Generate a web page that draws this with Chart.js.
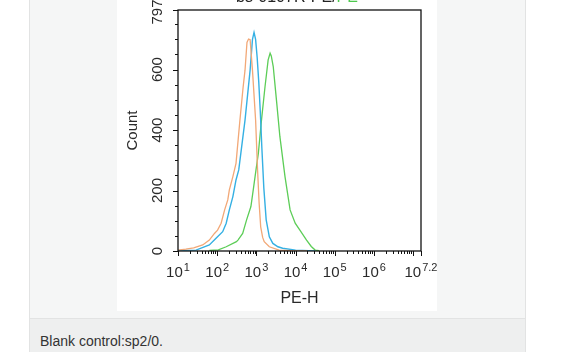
<!DOCTYPE html>
<html>
<head>
<meta charset="utf-8">
<script src="https://cdn.jsdelivr.net/npm/chart.js@4.4.1/dist/chart.umd.min.js"></script>
<style>
  html, body { margin: 0; padding: 0; background: #fff; width: 561px; height: 352px; overflow: hidden; font-family: Arial, "Liberation Sans", sans-serif; }
  .panel { position: absolute; left: 29px; top: -10px; width: 495px; height: 328px; background: #f5f6f6; border: 1px solid #e2e3e3; border-top: none; }
  .caption { position: absolute; left: 29px; top: 318px; width: 495px; height: 40px; background: #eeefef; border-left: 1px solid #e2e3e3; border-right: 1px solid #e2e3e3; border-top: 1px solid #e2e3e3; }
  .caption span { position: absolute; left: 10px; top: 14px; font-size: 14px; color: #333; }
  .figure { position: absolute; left: 117px; top: 0; width: 320px; height: 311px; background: #fff; }
</style>
</head>
<body>
<div class="panel"></div>
<div class="figure"><canvas id="flowChart" width="320" height="311"></canvas></div>
<div class="caption"><span>Blank control:sp2/0.</span></div>
<script>
// PE-H positions are in decades (log10), counts are events per channel
var blankPE = [1.0, 1.2, 1.4, 1.63, 1.8, 1.93, 2.01, 2.1, 2.19, 2.27, 2.31, 2.4, 2.48, 2.58, 2.66, 2.71, 2.76, 2.8, 2.84, 2.9, 2.98, 3.03, 3.07, 3.11, 3.16, 3.2, 3.33, 3.58, 3.9, 4.3];
var blankCount = [3, 6, 10, 20, 36, 58, 69, 92, 136, 169, 202, 246, 290, 433, 540, 598, 690, 701, 699, 598, 433, 268, 158, 80, 45, 31, 14, 3, 1, 0];

var isotypePE = [1.0, 1.46, 1.8, 1.97, 2.14, 2.23, 2.31, 2.4, 2.48, 2.55, 2.71, 2.84, 2.9, 2.94, 2.98, 3.02, 3.06, 3.1, 3.14, 3.19, 3.25, 3.33, 3.42, 3.55, 3.67, 4.0, 4.5];
var isotypeCount = [2, 3, 20, 42, 64, 92, 136, 180, 235, 268, 433, 598, 700, 723, 700, 640, 560, 460, 340, 208, 103, 47, 25, 14, 9, 3, 0];

var samplePE = [1.8, 2.03, 2.23, 2.49, 2.53, 2.65, 2.75, 2.86, 2.92, 2.99, 3.05, 3.13, 3.22, 3.3, 3.35, 3.38, 3.43, 3.52, 3.6, 3.73, 3.86, 3.99, 4.11, 4.28, 4.4, 4.5, 4.6];
var sampleCount = [2, 4, 14, 31, 36, 58, 103, 147, 202, 268, 323, 433, 543, 632, 654, 645, 610, 488, 378, 246, 136, 92, 69, 36, 15, 3, 1];

var xDecades = [1, 2, 3, 4, 5, 6, 7.2];
var xExponents = ['1', '2', '3', '4', '5', '6', '7.2'];
var yTicks = [0, 200, 400, 600, 797];

var FONT = 'Arial, "Liberation Sans", sans-serif';

function toPoints(xs, ys) {
    return xs.map(function (v, i) { return { x: v, y: ys[i] }; });
}

var axisPlugin = {
    id: 'flowAxes',
    afterDraw: function (chart) {
        var ctx = chart.ctx;
        var area = chart.chartArea;
        var x = chart.scales.x;
        var y = chart.scales.y;
        ctx.save();
        ctx.strokeStyle = '#111';
        ctx.lineWidth = 1.3;
        ctx.strokeRect(area.left, area.top, area.right - area.left, area.bottom - area.top);

        // y ticks every 50, labelled ones longer
        ctx.lineWidth = 1;
        for (var v = 0; v <= 797; v += 50) {
            var py = Math.round(y.getPixelForValue(v)) + 0.5;
            var len = (v % 200 === 0) ? 5 : 3;
            ctx.beginPath(); ctx.moveTo(area.left - len, py); ctx.lineTo(area.left, py); ctx.stroke();
        }
        var pTop = Math.round(y.getPixelForValue(797)) + 0.5;
        ctx.beginPath(); ctx.moveTo(area.left - 5, pTop); ctx.lineTo(area.left, pTop); ctx.stroke();

        // x ticks: decades plus log minors
        for (var d = 1; d <= 7; d++) {
            var px = Math.round(x.getPixelForValue(d)) + 0.5;
            ctx.beginPath(); ctx.moveTo(px, area.bottom); ctx.lineTo(px, area.bottom + 5); ctx.stroke();
            for (var k = 2; k <= 9; k++) {
                var lv = d + Math.log10(k);
                if (lv > 7.2) break;
                var pm = Math.round(x.getPixelForValue(lv)) + 0.5;
                ctx.beginPath(); ctx.moveTo(pm, area.bottom); ctx.lineTo(pm, area.bottom + 3); ctx.stroke();
            }
        }
        var pEnd = Math.round(x.getPixelForValue(7.2)) + 0.5;
        ctx.beginPath(); ctx.moveTo(pEnd, area.bottom); ctx.lineTo(pEnd, area.bottom + 5); ctx.stroke();

        ctx.fillStyle = '#2a2a2a';
        // y labels, rotated
        ctx.font = '15px ' + FONT;
        ctx.textAlign = 'center';
        ctx.textBaseline = 'middle';
        yTicks.forEach(function (t) {
            ctx.save();
            ctx.translate(area.left - 20, y.getPixelForValue(t) + (t === 797 ? 2 : 0));
            ctx.rotate(-Math.PI / 2);
            ctx.fillText(String(t), 0, 0);
            ctx.restore();
        });

        // x labels as 10 with superscript exponent
        ctx.textAlign = 'left';
        ctx.textBaseline = 'alphabetic';
        xDecades.forEach(function (d, i) {
            ctx.font = '15px ' + FONT;
            var w1 = ctx.measureText('10').width;
            ctx.font = '11px ' + FONT;
            var w2 = ctx.measureText(xExponents[i]).width;
            var sx = x.getPixelForValue(d) - (w1 + 1 + w2) / 2;
            ctx.font = '15px ' + FONT;
            ctx.fillText('10', sx, area.bottom + 26);
            ctx.font = '11px ' + FONT;
            ctx.fillText(xExponents[i], sx + w1 + 1, area.bottom + 20);
        });

        // figure title, mostly scrolled out of view
        ctx.font = '16px ' + FONT;
        var t1 = 'bs-0107R-PE/', t2 = 'PE';
        var tw1 = ctx.measureText(t1).width, tw2 = ctx.measureText(t2).width;
        var tx = 180 - (tw1 + tw2) / 2;
        ctx.fillStyle = '#222';
        ctx.fillText(t1, tx, 2);
        ctx.fillStyle = '#4ec94e';
        ctx.fillText(t2, tx + tw1, 2);
        ctx.restore();
    }
};

var ctx = document.getElementById('flowChart').getContext('2d');
var flowChart = new Chart(ctx, {
    type: 'line',
    data: {
        datasets: [
            { label: 'Blank control', data: toPoints(blankPE, blankCount), borderColor: '#f2a877', borderWidth: 1.3, pointRadius: 0, tension: 0 },
            { label: 'Isotype control', data: toPoints(isotypePE, isotypeCount), borderColor: '#35b0e3', borderWidth: 1.4, pointRadius: 0, tension: 0 },
            { label: 'bs-0107R-PE', data: toPoints(samplePE, sampleCount), borderColor: '#5ccd57', borderWidth: 1.3, pointRadius: 0, tension: 0 }
        ]
    },
    options: {
        responsive: false,
        animation: false,
        devicePixelRatio: 1,
        layout: { padding: { top: 10, right: 16, left: 0, bottom: 0 } },
        plugins: { legend: { display: false }, tooltip: { enabled: false } },
        scales: {
            x: {
                type: 'linear',
                min: 1,
                max: 7.2,
                grid: { display: false },
                border: { display: false },
                ticks: { display: false },
                title: { display: true, text: 'PE-H', color: '#2a2a2a', font: { size: 16, family: FONT }, padding: { top: 0, bottom: 3 } },
                afterFit: function (scale) { scale.height = 60; }
            },
            y: {
                min: 0,
                max: 797,
                grid: { display: false },
                border: { display: false },
                ticks: { display: false },
                title: { display: true, text: 'Count', color: '#2a2a2a', font: { size: 15, family: FONT }, padding: { top: 7, bottom: 0 } },
                afterFit: function (scale) { scale.width = 61; }
            }
        }
    },
    plugins: [axisPlugin]
});
</script>
</body>
</html>
